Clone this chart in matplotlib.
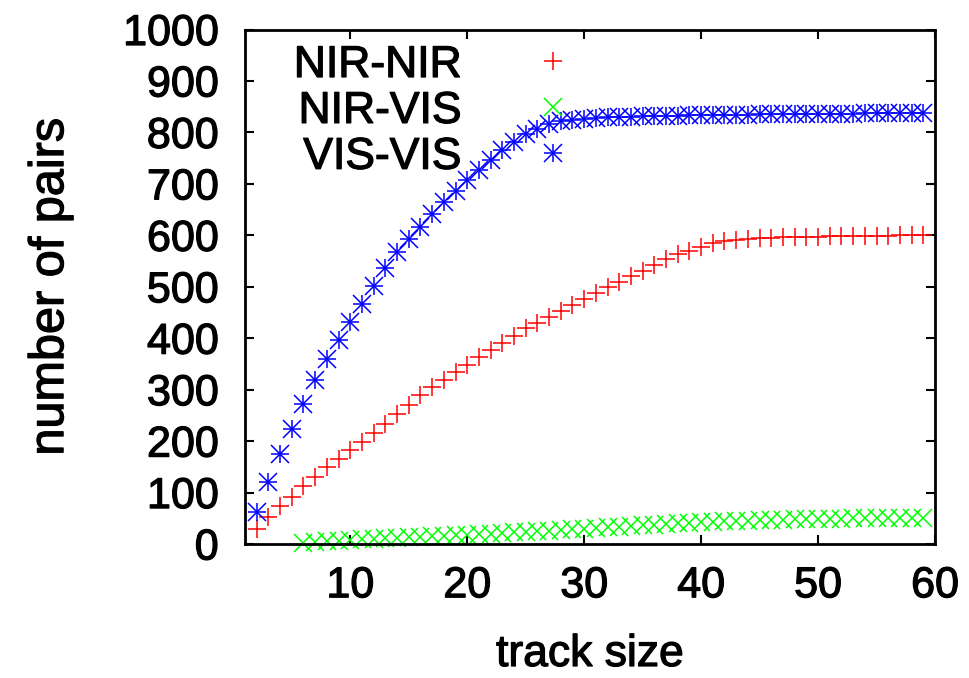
import matplotlib
matplotlib.use("Agg")
import matplotlib.pyplot as plt
import matplotlib.patheffects as pe

# --- data ---
track_red_blue = list(range(2, 60))
track_green = list(range(6, 60))

nir_nir = [29, 53, 73, 92, 112, 131, 149, 165, 182, 199, 215, 233, 252, 270, 289,
           305, 319, 334, 348, 364, 378, 391, 405, 419, 430, 441, 453, 465, 477,
           488, 499, 510, 520, 531, 543, 553, 563, 570, 578, 585, 589, 591, 593,
           594, 595, 596, 596, 597, 597, 598, 598, 598, 599, 599, 599, 600, 600, 600]

nir_vis = [1, 3, 5, 6, 8, 9, 10, 11, 12, 13, 14, 15, 16, 17, 18, 19, 20, 22, 23,
           24, 25, 26, 27, 29, 30, 31, 33, 34, 35, 36, 37, 39, 40, 41, 42, 43, 44,
           45, 45, 46, 47, 47, 48, 48, 49, 49, 49, 50, 50, 50, 50, 51, 51, 51]

vis_vis = [63, 121, 175, 224, 273, 318, 359, 397, 431, 467, 502, 536, 567, 593,
           617, 641, 664, 686, 707, 726, 746, 765, 781, 797, 807, 817, 822, 825,
           827, 828, 829, 830, 830, 831, 831, 832, 832, 833, 833, 833, 834, 834,
           834, 835, 835, 835, 835, 836, 836, 836, 836, 836, 837, 837, 837, 837,
           837, 837]

labels = ["NIR-NIR", "NIR-VIS", "VIS-VIS"]
x_ticks = [10, 20, 30, 40, 50, 60]
y_ticks = list(range(0, 1001, 100))

plt.rcParams['font.family'] = ['Liberation Sans', 'DejaVu Sans']
FS = 31
# gnuplot text comes out a little heavier than plain Liberation Sans
heavy = [pe.withStroke(linewidth=0.9, foreground='black')]

fig = plt.figure(figsize=(9.7, 6.78), dpi=100)
ax = fig.add_axes([245 / 970, 1 - 544 / 678, (935 - 245) / 970, (544 - 29.5) / 678])

ms = 13
mew = 1.1
(h_red,) = ax.plot(track_red_blue, nir_nir, '+', color='#ff0000', ms=ms, mew=mew,
                   clip_on=False, label=labels[0])
(h_green,) = ax.plot(track_green, nir_vis, 'x', color='#00ff00', ms=ms, mew=mew,
                     clip_on=False, label=labels[1])
# gnuplot style asterisk: plus and cross on top of each other
ax.plot(track_red_blue, vis_vis, '+', color='#0000ff', ms=ms, mew=mew, clip_on=False)
ax.plot(track_red_blue, vis_vis, 'x', color='#0000ff', ms=ms, mew=mew, clip_on=False)
h_blue = (plt.Line2D([], [], ls='', marker='+', color='#0000ff', ms=ms, mew=mew),
          plt.Line2D([], [], ls='', marker='x', color='#0000ff', ms=ms, mew=mew))

ax.set_xlim(1, 60)
ax.set_ylim(0, 1000)
ax.set_xticks(x_ticks)
ax.set_yticks(y_ticks)
ax.tick_params(direction='in', length=6.5, width=1.5, top=True, right=True,
               labelsize=FS)
ax.tick_params(axis='x', pad=16)
ax.tick_params(axis='y', pad=19)
for sp in ax.spines.values():
    sp.set_linewidth(2)

ax.set_xlabel("track size", fontsize=32, labelpad=20)
ax.set_ylabel("number of pairs", fontsize=35, labelpad=36)

leg = ax.legend([h_red, h_green, h_blue], labels, markerfirst=False, frameon=False,
                fontsize=32, handlelength=1.0, handletextpad=1.55, labelspacing=0.11,
                borderpad=0, borderaxespad=0, loc='upper right',
                bbox_to_anchor=(575 / 970, 1 - 45 / 678),
                bbox_transform=fig.transFigure)

for t in (ax.get_xticklabels() + ax.get_yticklabels() + leg.get_texts()
          + [ax.xaxis.label, ax.yaxis.label]):
    t.set_path_effects(heavy)

fig.savefig("out.png", dpi=100)
